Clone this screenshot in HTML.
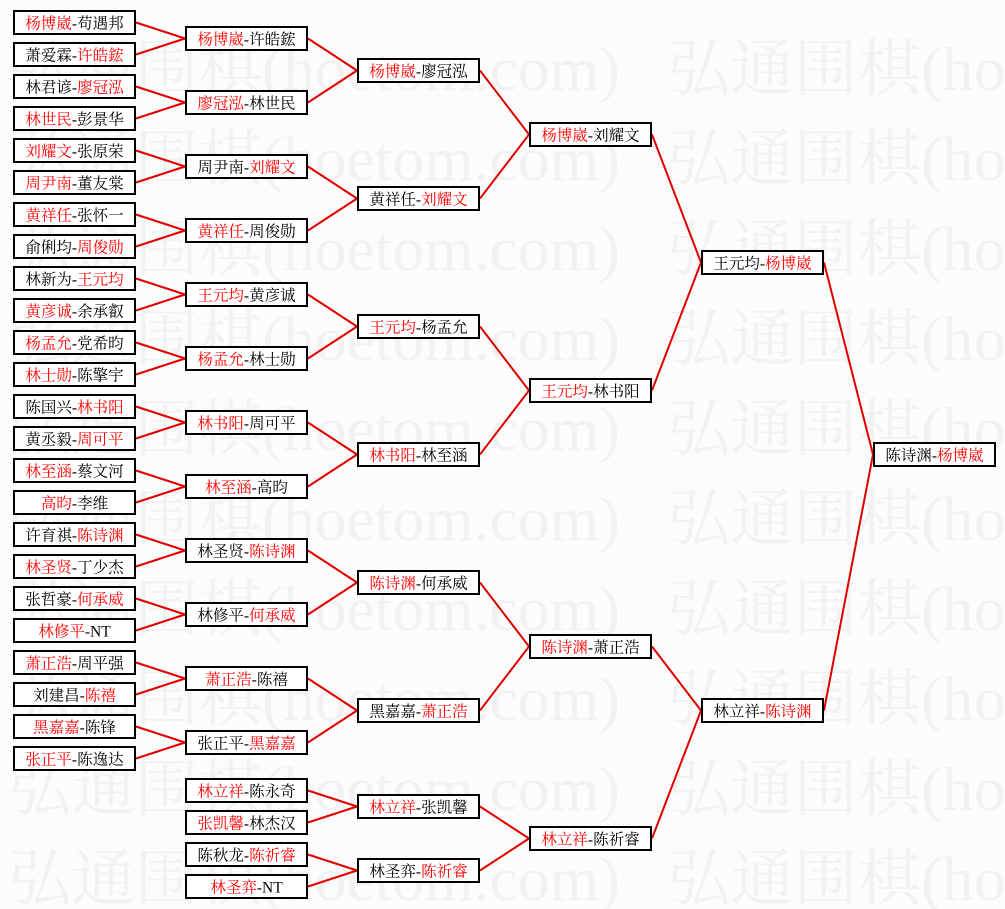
<!DOCTYPE html>
<html>
<head>
<meta charset="utf-8">
<style>
html,body{margin:0;padding:0;background:#fcfcfc;}
svg{display:block;}
.wm{font-family:"Liberation Serif","Noto Serif CJK SC",serif;font-size:62px;fill:#f2f2f2;}
.t{font-family:"Liberation Serif","Noto Serif CJK SC",serif;font-size:15.5px;fill:#000;}
.r{fill:#ff0000;}
.b{fill:#fff;stroke:#000;stroke-width:2;}
</style>
</head>
<body>
<svg width="1005" height="909" viewBox="0 0 1005 909" xmlns="http://www.w3.org/2000/svg">
<rect x="0" y="0" width="1005" height="909" fill="#fcfcfc"/>
<g class="wm">
<text x="8" y="90" textLength="612" lengthAdjust="spacingAndGlyphs">弘通围棋(hoetom.com)</text><text x="667" y="90" textLength="612" lengthAdjust="spacingAndGlyphs">弘通围棋(hoetom.com)</text>
<text x="8" y="180" textLength="612" lengthAdjust="spacingAndGlyphs">弘通围棋(hoetom.com)</text><text x="667" y="180" textLength="612" lengthAdjust="spacingAndGlyphs">弘通围棋(hoetom.com)</text>
<text x="8" y="270" textLength="612" lengthAdjust="spacingAndGlyphs">弘通围棋(hoetom.com)</text><text x="667" y="270" textLength="612" lengthAdjust="spacingAndGlyphs">弘通围棋(hoetom.com)</text>
<text x="8" y="360" textLength="612" lengthAdjust="spacingAndGlyphs">弘通围棋(hoetom.com)</text><text x="667" y="360" textLength="612" lengthAdjust="spacingAndGlyphs">弘通围棋(hoetom.com)</text>
<text x="8" y="450" textLength="612" lengthAdjust="spacingAndGlyphs">弘通围棋(hoetom.com)</text><text x="667" y="450" textLength="612" lengthAdjust="spacingAndGlyphs">弘通围棋(hoetom.com)</text>
<text x="8" y="540" textLength="612" lengthAdjust="spacingAndGlyphs">弘通围棋(hoetom.com)</text><text x="667" y="540" textLength="612" lengthAdjust="spacingAndGlyphs">弘通围棋(hoetom.com)</text>
<text x="8" y="630" textLength="612" lengthAdjust="spacingAndGlyphs">弘通围棋(hoetom.com)</text><text x="667" y="630" textLength="612" lengthAdjust="spacingAndGlyphs">弘通围棋(hoetom.com)</text>
<text x="8" y="720" textLength="612" lengthAdjust="spacingAndGlyphs">弘通围棋(hoetom.com)</text><text x="667" y="720" textLength="612" lengthAdjust="spacingAndGlyphs">弘通围棋(hoetom.com)</text>
<text x="8" y="810" textLength="612" lengthAdjust="spacingAndGlyphs">弘通围棋(hoetom.com)</text><text x="667" y="810" textLength="612" lengthAdjust="spacingAndGlyphs">弘通围棋(hoetom.com)</text>
<text x="8" y="900" textLength="612" lengthAdjust="spacingAndGlyphs">弘通围棋(hoetom.com)</text><text x="667" y="900" textLength="612" lengthAdjust="spacingAndGlyphs">弘通围棋(hoetom.com)</text>
</g>

<g fill="none" stroke="#e00000" stroke-width="2">
<path d="M136 22.5L185 38.5M136 54.5L185 38.5M136 86.5L185 102.5M136 118.5L185 102.5M136 150.5L185 166.5M136 182.5L185 166.5M136 214.5L185 230.5M136 246.5L185 230.5M136 278.5L185 294.5M136 310.5L185 294.5M136 342.5L185 358.5M136 374.5L185 358.5M136 406.5L185 422.5M136 438.5L185 422.5M136 470.5L185 486.5M136 502.5L185 486.5M136 534.5L185 550.5M136 566.5L185 550.5M136 598.5L185 614.5M136 630.5L185 614.5M136 662.5L185 678.5M136 694.5L185 678.5M136 726.5L185 742.5M136 758.5L185 742.5"/>
<path d="M308 38.5L357 70.5M308 102.5L357 70.5M308 166.5L357 198.5M308 230.5L357 198.5M308 294.5L357 326.5M308 358.5L357 326.5M308 422.5L357 454.5M308 486.5L357 454.5M308 550.5L357 582.5M308 614.5L357 582.5M308 678.5L357 710.5M308 742.5L357 710.5M308 790.5L357 806.5M308 822.5L357 806.5M308 854.5L357 870.5M308 886.5L357 870.5"/>
<path d="M480 70.5L529 134.5M480 198.5L529 134.5M480 326.5L529 390.5M480 454.5L529 390.5M480 582.5L529 646.5M480 710.5L529 646.5M480 806.5L529 838.5M480 870.5L529 838.5"/>
<path d="M652 134.5L701 262.5M652 390.5L701 262.5M652 646.5L701 710.5M652 838.5L701 710.5"/>
<path d="M824 262.5L873 454.5M824 710.5L873 454.5"/>
</g>

<!-- Column 0 -->
<g>
<rect class="b" x="14" y="11" width="121" height="23"/><text class="t" x="74.5" y="28.5" text-anchor="middle"><tspan class="r">杨博崴</tspan>-苟遇邦</text>
<rect class="b" x="14" y="43" width="121" height="23"/><text class="t" x="74.5" y="60.5" text-anchor="middle">萧爱霖-<tspan class="r">许皓鋐</tspan></text>
<rect class="b" x="14" y="75" width="121" height="23"/><text class="t" x="74.5" y="92.5" text-anchor="middle">林君谚-<tspan class="r">廖冠泓</tspan></text>
<rect class="b" x="14" y="107" width="121" height="23"/><text class="t" x="74.5" y="124.5" text-anchor="middle"><tspan class="r">林世民</tspan>-彭景华</text>
<rect class="b" x="14" y="139" width="121" height="23"/><text class="t" x="74.5" y="156.5" text-anchor="middle"><tspan class="r">刘耀文</tspan>-张原荣</text>
<rect class="b" x="14" y="171" width="121" height="23"/><text class="t" x="74.5" y="188.5" text-anchor="middle"><tspan class="r">周尹南</tspan>-董友棠</text>
<rect class="b" x="14" y="203" width="121" height="23"/><text class="t" x="74.5" y="220.5" text-anchor="middle"><tspan class="r">黄祥任</tspan>-张怀一</text>
<rect class="b" x="14" y="235" width="121" height="23"/><text class="t" x="74.5" y="252.5" text-anchor="middle">俞俐均-<tspan class="r">周俊勋</tspan></text>
<rect class="b" x="14" y="267" width="121" height="23"/><text class="t" x="74.5" y="284.5" text-anchor="middle">林新为-<tspan class="r">王元均</tspan></text>
<rect class="b" x="14" y="299" width="121" height="23"/><text class="t" x="74.5" y="316.5" text-anchor="middle"><tspan class="r">黄彦诚</tspan>-余承叡</text>
<rect class="b" x="14" y="331" width="121" height="23"/><text class="t" x="74.5" y="348.5" text-anchor="middle"><tspan class="r">杨孟允</tspan>-党希昀</text>
<rect class="b" x="14" y="363" width="121" height="23"/><text class="t" x="74.5" y="380.5" text-anchor="middle"><tspan class="r">林士勋</tspan>-陈擎宇</text>
<rect class="b" x="14" y="395" width="121" height="23"/><text class="t" x="74.5" y="412.5" text-anchor="middle">陈国兴-<tspan class="r">林书阳</tspan></text>
<rect class="b" x="14" y="427" width="121" height="23"/><text class="t" x="74.5" y="444.5" text-anchor="middle">黄丞毅-<tspan class="r">周可平</tspan></text>
<rect class="b" x="14" y="459" width="121" height="23"/><text class="t" x="74.5" y="476.5" text-anchor="middle"><tspan class="r">林至涵</tspan>-蔡文河</text>
<rect class="b" x="14" y="491" width="121" height="23"/><text class="t" x="74.5" y="508.5" text-anchor="middle"><tspan class="r">高昀</tspan>-李维</text>
<rect class="b" x="14" y="523" width="121" height="23"/><text class="t" x="74.5" y="540.5" text-anchor="middle">许育祺-<tspan class="r">陈诗渊</tspan></text>
<rect class="b" x="14" y="555" width="121" height="23"/><text class="t" x="74.5" y="572.5" text-anchor="middle"><tspan class="r">林圣贤</tspan>-丁少杰</text>
<rect class="b" x="14" y="587" width="121" height="23"/><text class="t" x="74.5" y="604.5" text-anchor="middle">张哲豪-<tspan class="r">何承威</tspan></text>
<rect class="b" x="14" y="619" width="121" height="23"/><text class="t" x="74.5" y="636.5" text-anchor="middle"><tspan class="r">林修平</tspan>-NT</text>
<rect class="b" x="14" y="651" width="121" height="23"/><text class="t" x="74.5" y="668.5" text-anchor="middle"><tspan class="r">萧正浩</tspan>-周平强</text>
<rect class="b" x="14" y="683" width="121" height="23"/><text class="t" x="74.5" y="700.5" text-anchor="middle">刘建昌-<tspan class="r">陈禧</tspan></text>
<rect class="b" x="14" y="715" width="121" height="23"/><text class="t" x="74.5" y="732.5" text-anchor="middle"><tspan class="r">黑嘉嘉</tspan>-陈锋</text>
<rect class="b" x="14" y="747" width="121" height="23"/><text class="t" x="74.5" y="764.5" text-anchor="middle"><tspan class="r">张正平</tspan>-陈逸达</text>
</g>

<!-- Column 1 -->
<g>
<rect class="b" x="186" y="27" width="121" height="23"/><text class="t" x="246.5" y="44.5" text-anchor="middle"><tspan class="r">杨博崴</tspan>-许皓鋐</text>
<rect class="b" x="186" y="91" width="121" height="23"/><text class="t" x="246.5" y="108.5" text-anchor="middle"><tspan class="r">廖冠泓</tspan>-林世民</text>
<rect class="b" x="186" y="155" width="121" height="23"/><text class="t" x="246.5" y="172.5" text-anchor="middle">周尹南-<tspan class="r">刘耀文</tspan></text>
<rect class="b" x="186" y="219" width="121" height="23"/><text class="t" x="246.5" y="236.5" text-anchor="middle"><tspan class="r">黄祥任</tspan>-周俊勋</text>
<rect class="b" x="186" y="283" width="121" height="23"/><text class="t" x="246.5" y="300.5" text-anchor="middle"><tspan class="r">王元均</tspan>-黄彦诚</text>
<rect class="b" x="186" y="347" width="121" height="23"/><text class="t" x="246.5" y="364.5" text-anchor="middle"><tspan class="r">杨孟允</tspan>-林士勋</text>
<rect class="b" x="186" y="411" width="121" height="23"/><text class="t" x="246.5" y="428.5" text-anchor="middle"><tspan class="r">林书阳</tspan>-周可平</text>
<rect class="b" x="186" y="475" width="121" height="23"/><text class="t" x="246.5" y="492.5" text-anchor="middle"><tspan class="r">林至涵</tspan>-高昀</text>
<rect class="b" x="186" y="539" width="121" height="23"/><text class="t" x="246.5" y="556.5" text-anchor="middle">林圣贤-<tspan class="r">陈诗渊</tspan></text>
<rect class="b" x="186" y="603" width="121" height="23"/><text class="t" x="246.5" y="620.5" text-anchor="middle">林修平-<tspan class="r">何承威</tspan></text>
<rect class="b" x="186" y="667" width="121" height="23"/><text class="t" x="246.5" y="684.5" text-anchor="middle"><tspan class="r">萧正浩</tspan>-陈禧</text>
<rect class="b" x="186" y="731" width="121" height="23"/><text class="t" x="246.5" y="748.5" text-anchor="middle">张正平-<tspan class="r">黑嘉嘉</tspan></text>
<rect class="b" x="186" y="779" width="121" height="23"/><text class="t" x="246.5" y="796.5" text-anchor="middle"><tspan class="r">林立祥</tspan>-陈永奇</text>
<rect class="b" x="186" y="811" width="121" height="23"/><text class="t" x="246.5" y="828.5" text-anchor="middle"><tspan class="r">张凯馨</tspan>-林杰汉</text>
<rect class="b" x="186" y="843" width="121" height="23"/><text class="t" x="246.5" y="860.5" text-anchor="middle">陈秋龙-<tspan class="r">陈祈睿</tspan></text>
<rect class="b" x="186" y="875" width="121" height="23"/><text class="t" x="246.5" y="892.5" text-anchor="middle"><tspan class="r">林圣弈</tspan>-NT</text>
</g>

<!-- Column 2 -->
<g>
<rect class="b" x="358" y="59" width="121" height="23"/><text class="t" x="418.5" y="76.5" text-anchor="middle"><tspan class="r">杨博崴</tspan>-廖冠泓</text>
<rect class="b" x="358" y="187" width="121" height="23"/><text class="t" x="418.5" y="204.5" text-anchor="middle">黄祥任-<tspan class="r">刘耀文</tspan></text>
<rect class="b" x="358" y="315" width="121" height="23"/><text class="t" x="418.5" y="332.5" text-anchor="middle"><tspan class="r">王元均</tspan>-杨孟允</text>
<rect class="b" x="358" y="443" width="121" height="23"/><text class="t" x="418.5" y="460.5" text-anchor="middle"><tspan class="r">林书阳</tspan>-林至涵</text>
<rect class="b" x="358" y="571" width="121" height="23"/><text class="t" x="418.5" y="588.5" text-anchor="middle"><tspan class="r">陈诗渊</tspan>-何承威</text>
<rect class="b" x="358" y="699" width="121" height="23"/><text class="t" x="418.5" y="716.5" text-anchor="middle">黑嘉嘉-<tspan class="r">萧正浩</tspan></text>
<rect class="b" x="358" y="795" width="121" height="23"/><text class="t" x="418.5" y="812.5" text-anchor="middle"><tspan class="r">林立祥</tspan>-张凯馨</text>
<rect class="b" x="358" y="859" width="121" height="23"/><text class="t" x="418.5" y="876.5" text-anchor="middle">林圣弈-<tspan class="r">陈祈睿</tspan></text>
</g>

<!-- Column 3 -->
<g>
<rect class="b" x="530" y="123" width="121" height="23"/><text class="t" x="590.5" y="140.5" text-anchor="middle"><tspan class="r">杨博崴</tspan>-刘耀文</text>
<rect class="b" x="530" y="379" width="121" height="23"/><text class="t" x="590.5" y="396.5" text-anchor="middle"><tspan class="r">王元均</tspan>-林书阳</text>
<rect class="b" x="530" y="635" width="121" height="23"/><text class="t" x="590.5" y="652.5" text-anchor="middle"><tspan class="r">陈诗渊</tspan>-萧正浩</text>
<rect class="b" x="530" y="827" width="121" height="23"/><text class="t" x="590.5" y="844.5" text-anchor="middle"><tspan class="r">林立祥</tspan>-陈祈睿</text>
</g>

<!-- Column 4 -->
<g>
<rect class="b" x="702" y="251" width="121" height="23"/><text class="t" x="762.5" y="268.5" text-anchor="middle">王元均-<tspan class="r">杨博崴</tspan></text>
<rect class="b" x="702" y="699" width="121" height="23"/><text class="t" x="762.5" y="716.5" text-anchor="middle">林立祥-<tspan class="r">陈诗渊</tspan></text>
</g>

<!-- Column 5 -->
<g>
<rect class="b" x="874" y="443" width="121" height="23"/><text class="t" x="934.5" y="460.5" text-anchor="middle">陈诗渊-<tspan class="r">杨博崴</tspan></text>
</g>
</svg>
</body>
</html>
